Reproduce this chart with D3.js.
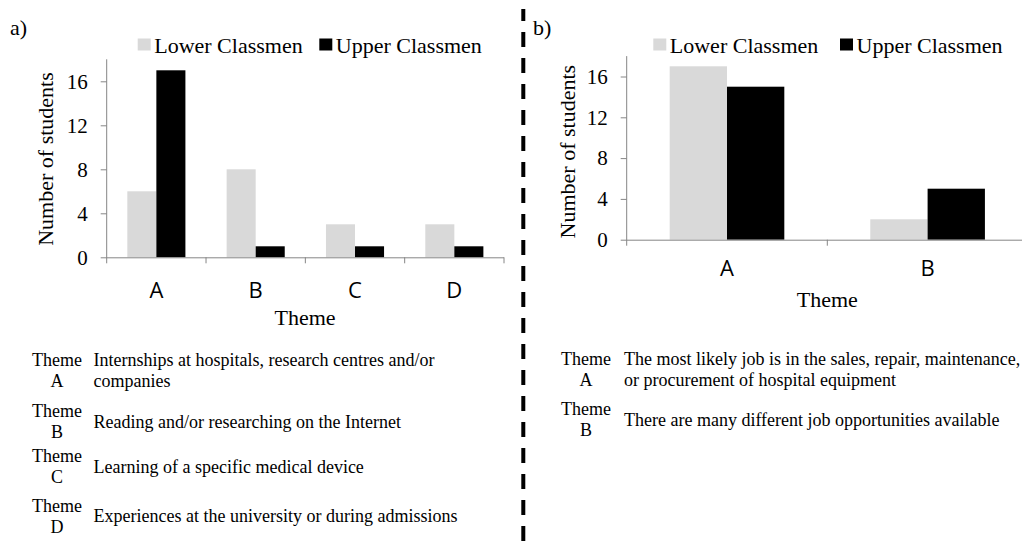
<!DOCTYPE html>
<html>
<head>
<meta charset="utf-8">
<script src="https://cdn.jsdelivr.net/npm/d3@7"></script>
<style>
  html, body { margin: 0; padding: 0; background: #fff; }
  svg { display: block; }
  text { font-family: "Liberation Serif", "Times New Roman", serif; fill: #000; }
  .sans { font-family: "Open Sans", "Liberation Sans", sans-serif; }
</style>
</head>
<body>
<svg id="chart" width="1022" height="543"></svg>
<script>
// ---------- DATA ----------
const seriesNames = ["Lower Classmen", "Upper Classmen"];
const seriesColors = ["#d9d9d9", "#000000"];

const categoriesA = ["A", "B", "C", "D"];
const lowerA = [6, 8, 3, 3];
const upperA = [17, 1, 1, 1];

const categoriesB = ["A", "B"];
const lowerB = [17, 2];
const upperB = [15, 5];

const yTicks = [0, 4, 8, 12, 16];
const yMax = 18;

const themesA = [
  ["Theme", "A", ["Internships at hospitals, research centres and/or", "companies"]],
  ["Theme", "B", ["Reading and/or researching on the Internet"]],
  ["Theme", "C", ["Learning of a specific medical device"]],
  ["Theme", "D", ["Experiences at the university or during admissions"]]
];
const themesB = [
  ["Theme", "A", ["The most likely job is in the sales, repair, maintenance,", "or procurement of hospital equipment"]],
  ["Theme", "B", ["There are many different job opportunities available"]]
];

// ---------- DRAW ----------
const svg = d3.select("#chart");
const axisColor = "#868686";

function drawChart(cfg) {
  const g = svg.append("g");
  const x = d3.scaleBand().domain(cfg.categories).range([cfg.x0, cfg.x1]).padding(0);
  const xs = d3.scaleBand().domain(seriesNames).range([0, x.bandwidth()])
    .paddingInner(0).paddingOuter(cfg.outer);
  const y = d3.scaleLinear().domain([0, yMax]).range([cfg.yBase, cfg.yTop]);

  const rows = cfg.categories.map((c, i) => ({ cat: c, vals: [cfg.lower[i], cfg.upper[i]] }));

  // bars
  rows.forEach(r => {
    r.vals.forEach((v, si) => {
      g.append("rect")
        .attr("x", x(r.cat) + xs(seriesNames[si]))
        .attr("y", y(v))
        .attr("width", xs.bandwidth())
        .attr("height", y(0) - y(v))
        .attr("fill", seriesColors[si]);
    });
  });

  // y axis
  const ya = g.append("g").attr("transform", `translate(${cfg.x0},0)`)
    .call(d3.axisLeft(y).tickValues(yTicks).tickSize(6).tickPadding(13).tickSizeOuter(0));
  ya.select(".domain").attr("stroke", axisColor).attr("d", `M0,${y(yMax)}V${y(0) + 6}`);
  ya.selectAll(".tick line").attr("stroke", axisColor);
  ya.selectAll(".tick text").attr("font-family", "Liberation Serif, serif")
    .attr("font-size", 21).attr("fill", "#000");

  // x axis line
  g.append("line").attr("x1", cfg.x0).attr("x2", cfg.x1)
    .attr("y1", y(0) + 0.5).attr("y2", y(0) + 0.5).attr("stroke", axisColor);
  // boundary ticks
  const bounds = cfg.categories.map(c => x(c)).concat([x.range()[1]]).slice(1);
  bounds.forEach(b => {
    g.append("line").attr("x1", b).attr("x2", b).attr("y1", y(0)).attr("y2", y(0) + 6)
      .attr("stroke", axisColor);
  });
  // category labels
  cfg.categories.forEach(c => {
    g.append("text").attr("class", "sans")
      .attr("x", x(c) + x.bandwidth() / 2).attr("y", cfg.catY)
      .attr("text-anchor", "middle").attr("font-size", 22).text(c);
  });
  // x title
  g.append("text").attr("x", cfg.titleX).attr("y", cfg.titleY)
    .attr("text-anchor", "middle").attr("font-size", 22).text("Theme");
  // y title
  g.append("text").attr("transform", `translate(${cfg.yTitleX},${cfg.yTitleY}) rotate(-90)`)
    .attr("text-anchor", "middle").attr("font-size", 22).text("Number of students");

  // panel label
  g.append("text").attr("x", cfg.panelX).attr("y", 35).attr("font-size", 22).text(cfg.panel);

  // legend
  cfg.legend.forEach((lx, i) => {
    g.append("rect").attr("x", lx).attr("y", 38.5).attr("width", 13).attr("height", 12)
      .attr("fill", seriesColors[i]);
    g.append("text").attr("x", lx + 16.5).attr("y", 52.5).attr("font-size", 22).text(seriesNames[i]);
  });

  // theme table
  cfg.themes.forEach((t, i) => {
    const top = cfg.tableRows[i];
    g.append("text").attr("x", cfg.tableThemeX).attr("y", top).attr("text-anchor", "middle")
      .attr("font-size", 18).text(t[0]);
    g.append("text").attr("x", cfg.tableThemeX).attr("y", top + 21).attr("text-anchor", "middle")
      .attr("font-size", 18).text(t[1]);
    const lines = t[2];
    const startY = lines.length === 1 ? top + 10.5 : top;
    lines.forEach((ln, j) => {
      g.append("text").attr("x", cfg.tableDescX).attr("y", startY + j * 21)
        .attr("font-size", 18).text(ln);
    });
  });
}

drawChart({
  categories: categoriesA, lower: lowerA, upper: upperA,
  x0: 106.7, x1: 504, outer: 0.71, yBase: 257.3, yTop: 59.3,
  catY: 298, titleX: 305, titleY: 325, yTitleX: 53, yTitleY: 159,
  panel: "a)", panelX: 10, legend: [137.7, 319.3],
  themes: themesA, tableRows: [366, 417, 462, 511.5], tableThemeX: 57, tableDescX: 93.5
});

drawChart({
  categories: categoriesB, lower: lowerB, upper: upperB,
  x0: 626.7, x1: 1027.9, outer: 0.75, yBase: 239.7, yTop: 56.1,
  catY: 276, titleX: 827.3, titleY: 306.5, yTitleX: 575, yTitleY: 151.7,
  panel: "b)", panelX: 533, legend: [653.3, 840],
  themes: themesB, tableRows: [365, 415], tableThemeX: 586, tableDescX: 624
});

// dashed divider
svg.append("line").attr("x1", 523.3).attr("x2", 523.3).attr("y1", 9).attr("y2", 543)
  .attr("stroke", "#000").attr("stroke-width", 4)
  .attr("stroke-dasharray", "15,11").attr("stroke-dashoffset", 3);
</script>
</body>
</html>
